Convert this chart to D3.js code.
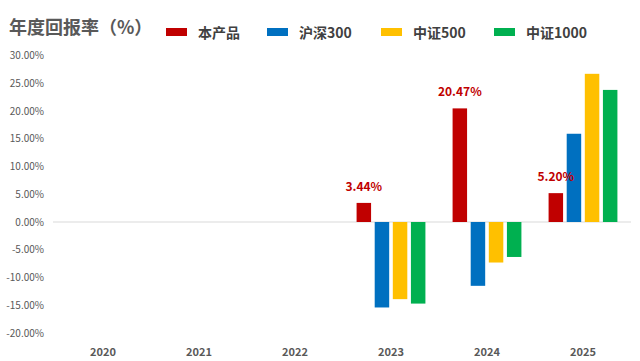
<!DOCTYPE html>
<html>
<head>
<meta charset="utf-8">
<script src="https://cdn.jsdelivr.net/npm/d3@7"></script>
<style>
  body { margin: 0; background: #fff; }
  text { font-family: "Microsoft YaHei", "Noto Sans CJK SC", sans-serif; }
</style>
</head>
<body>
<script>
// data
var years = ["2020", "2021", "2022", "2023", "2024", "2025"];
var seriesNames = ["本产品", "沪深300", "中证500", "中证1000"];
var seriesColors = ["#c00000", "#0070c0", "#ffc000", "#00b050"];
// values in %, null where no data
var product = [null, null, null, 3.44, 20.47, 5.20];
var hs300 = [null, null, null, -15.4, -11.5, 15.9];
var zz500 = [null, null, null, -13.9, -7.3, 26.7];
var zz1000 = [null, null, null, -14.7, -6.3, 23.8];
var yTicks = [30, 25, 20, 15, 10, 5, 0, -5, -10, -15, -20];

var allSeries = [product, hs300, zz500, zz1000];

var W = 640, H = 361;
var svg = d3.select("body").append("svg")
    .attr("width", W)
    .attr("height", H);

var x = d3.scaleBand().domain(years).range([55, 631]).paddingInner(0).paddingOuter(0);
var x1 = d3.scaleBand().domain(d3.range(4)).range([0, x.bandwidth()]).paddingInner(0.2).paddingOuter(0.75);
var y = d3.scaleLinear().domain([-20, 30]).range([333, 55.5]);

// title
svg.append("text")
    .attr("x", 9).attr("y", 34)
    .attr("font-size", 18).attr("font-weight", "bold")
    .attr("fill", "#595959")
    .text("年度回报率（%）");

// legend
var legendX = [166, 267, 381, 494];
var lg = svg.selectAll(".lg").data(seriesNames).enter().append("g")
    .attr("class", "lg")
    .attr("transform", function(d, i) { return "translate(" + legendX[i] + ",0)"; });
lg.append("rect")
    .attr("x", 0).attr("y", 28).attr("width", 21).attr("height", 8)
    .attr("fill", function(d, i) { return seriesColors[i]; });
lg.append("text")
    .attr("x", 32).attr("y", 38)
    .attr("font-size", 14).attr("font-weight", "bold")
    .attr("fill", "#404040")
    .text(function(d) { return d; });

// y axis labels
svg.selectAll(".ytick").data(yTicks).enter().append("text")
    .attr("class", "ytick")
    .attr("x", 44).attr("y", function(d) { return y(d); })
    .attr("dy", "0.35em")
    .attr("text-anchor", "end")
    .attr("font-size", 10)
    .attr("fill", "#595959")
    .text(function(d) { return d.toFixed(2) + "%"; });

// zero line
svg.append("line")
    .attr("x1", 53).attr("x2", 631)
    .attr("y1", y(0)).attr("y2", y(0))
    .attr("stroke", "#d9d9d9").attr("stroke-width", 1);

// bars
var bars = [];
years.forEach(function(yr, i) {
    allSeries.forEach(function(s, k) {
        if (s[i] != null) bars.push({year: yr, k: k, v: s[i]});
    });
});

svg.selectAll(".bar").data(bars).enter().append("rect")
    .attr("class", "bar")
    .attr("x", function(d) { return x(d.year) + x1(d.k); })
    .attr("width", x1.bandwidth())
    .attr("y", function(d) { return y(Math.max(0, d.v)); })
    .attr("height", function(d) { return Math.abs(y(d.v) - y(0)); })
    .attr("fill", function(d) { return seriesColors[d.k]; });

// data labels for the product
svg.selectAll(".dl").data(bars.filter(function(d) { return d.k == 0; })).enter().append("text")
    .attr("class", "dl")
    .attr("x", function(d) { return x(d.year) + x1(d.k) + x1.bandwidth() / 2; })
    .attr("y", function(d) { return y(d.v) - 12; })
    .attr("text-anchor", "middle")
    .attr("font-size", 12).attr("font-weight", "bold")
    .attr("fill", "#c00000")
    .text(function(d) { return d.v.toFixed(2) + "%"; });

// x labels
svg.selectAll(".xtick").data(years).enter().append("text")
    .attr("class", "xtick")
    .attr("x", function(d) { return x(d) + x.bandwidth() / 2; })
    .attr("y", 356)
    .attr("text-anchor", "middle")
    .attr("font-size", 11).attr("font-weight", "bold")
    .attr("fill", "#595959")
    .text(function(d) { return d; });
</script>
</body>
</html>
